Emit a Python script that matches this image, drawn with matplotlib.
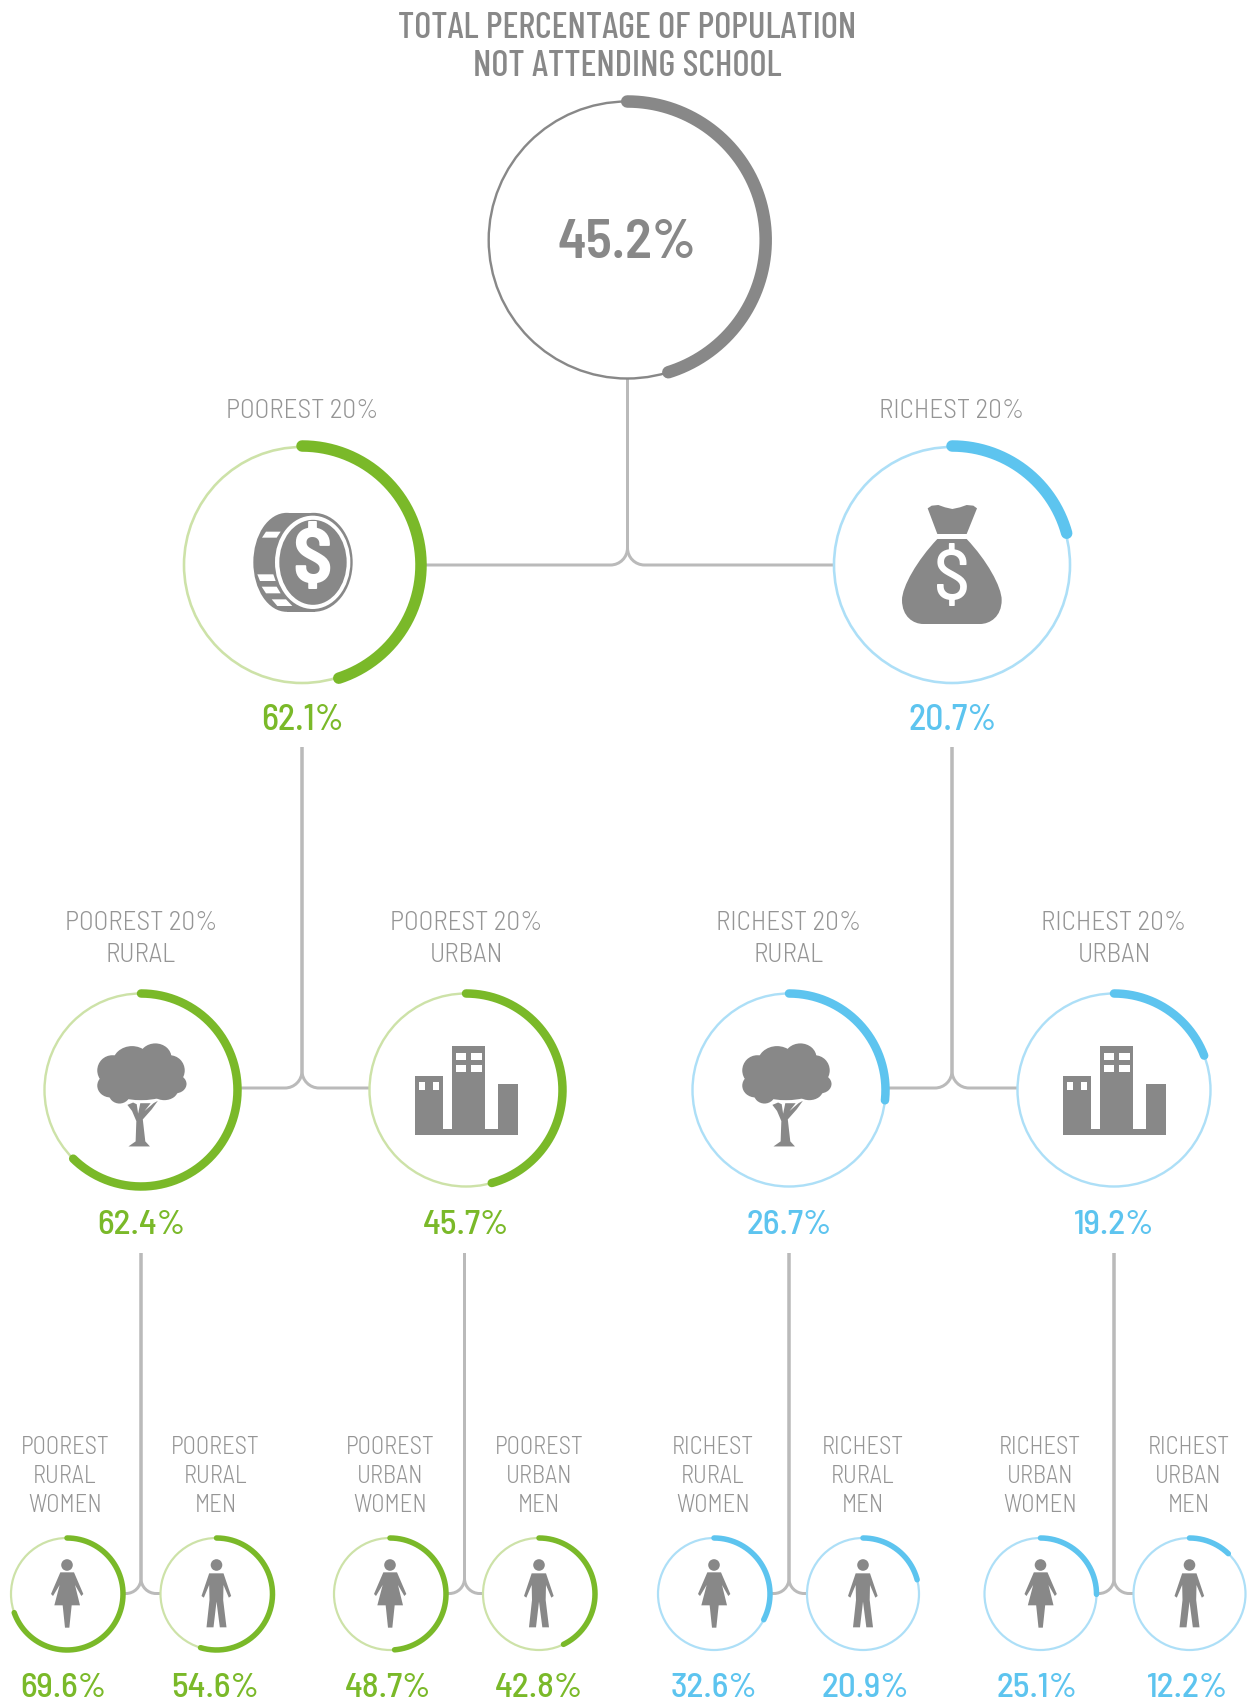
import numpy as np
import matplotlib
matplotlib.use('Agg')
import matplotlib.pyplot as plt
from matplotlib.path import Path
from matplotlib.patches import PathPatch, Ellipse, Polygon, Circle, Rectangle

# ---------- data ----------
title_lines = ['TOTAL PERCENTAGE OF POPULATION', 'NOT ATTENDING SCHOOL']
total_label = '45.2%'
total_arc = 45.2

wealth_names = ['POOREST 20%', 'RICHEST 20%']
wealth_labels = ['62.1%', '20.7%']
wealth_arcs = [45.0, 20.7]   # the drawn arc of the poorest ring is shorter than its label

area_names = [['POOREST 20%', 'RURAL'], ['POOREST 20%', 'URBAN'],
              ['RICHEST 20%', 'RURAL'], ['RICHEST 20%', 'URBAN']]
area_labels = ['62.4%', '45.7%', '26.7%', '19.2%']
area_arcs = [62.4, 45.7, 26.7, 19.2]

sex_names = [['POOREST', 'RURAL', 'WOMEN'], ['POOREST', 'RURAL', 'MEN'],
             ['POOREST', 'URBAN', 'WOMEN'], ['POOREST', 'URBAN', 'MEN'],
             ['RICHEST', 'RURAL', 'WOMEN'], ['RICHEST', 'RURAL', 'MEN'],
             ['RICHEST', 'URBAN', 'WOMEN'], ['RICHEST', 'URBAN', 'MEN']]
sex_labels = ['69.6%', '54.6%', '48.7%', '42.8%', '32.6%', '20.9%', '25.1%', '12.2%']
sex_arcs = [69.6, 54.6, 48.7, 42.8, 32.6, 20.9, 25.1, 12.2]

# ---------- style ----------
W, H = 1247, 1704
GREY = '#888888'; LABEL = '#959595'; LINE = '#bababa'
GREEN = '#7ab929'; GREEN_L = '#cde2a8'
BLUE = '#5dc4ef'; BLUE_L = '#addff7'
FONT = ['Barlow Semi Condensed', 'Roboto', 'DejaVu Sans']
FONT_TITLE = ['Barlow Condensed', 'Roboto', 'DejaVu Sans']
PX = 0.72  # points per pixel at dpi 100

fig = plt.figure(figsize=(W / 100, H / 100), dpi=100, facecolor='white')
ax = fig.add_axes([0, 0, 1, 1])
ax.set_xlim(0, W); ax.set_ylim(H, 0); ax.axis('off')


def ring(cx, cy, r, share, thin_c, thick_c, thin_w, thick_w, thick_r=None):
    ax.add_patch(Circle((cx, cy), r, fill=False, ec=thin_c, lw=thin_w * PX, zorder=3))
    t = np.radians(np.linspace(0, 3.6 * share, 300))
    tr = r if thick_r is None else thick_r
    ax.plot(cx + tr * np.sin(t), cy - tr * np.cos(t), color=thick_c, lw=thick_w * PX,
            solid_capstyle='round', zorder=4)


def fork(x, y0, y1, xl, xr, R):
    k = 0.55 * R
    for sgn, xe in ((-1, xl), (1, xr)):
        v = [(x, y0), (x, y1 - R), (x, y1 - R + k), (x + sgn * (R - k), y1), (x + sgn * R, y1), (xe, y1)]
        c = [Path.MOVETO, Path.LINETO, Path.CURVE4, Path.CURVE4, Path.CURVE4, Path.LINETO]
        ax.add_patch(PathPatch(Path(v, c), fill=False, ec=LINE, lw=3 * PX, zorder=1))


def label(x, base, s, size, color, weight=300, family=FONT):
    ax.text(x, base, s, ha='center', va='baseline', fontsize=size, color=color,
            family=family, weight=weight)


def poly(cx, cy, pts, ox, oy, s, color=GREY, z=5):
    pts = [(cx + (a - ox) / s, cy + (b - oy) / s) for a, b in pts]
    ax.add_patch(Polygon(pts, closed=True, fc=color, ec='none', zorder=z))


def woman(cx, cy):
    ax.add_patch(Circle((cx, cy - 29), 5.8, fc=GREY, ec='none', zorder=5))
    poly(cx, cy, [(178, 457), (219, 457), (247, 522), (241, 528), (222, 495), (237, 556),
                  (212, 556), (205, 623), (192, 623), (185, 556), (160, 556), (176, 495),
                  (156, 528), (150, 522)], 198, 522, 3)


def man(cx, cy):
    ax.add_patch(Circle((cx, cy - 29), 5.8, fc=GREY, ec='none', zorder=5))
    poly(cx, cy, [(625, 460), (668, 460), (691, 528), (684, 533), (668, 495), (667, 540),
                  (677, 622), (657, 622), (647, 545), (638, 622), (617, 622), (626, 540),
                  (625, 495), (609, 533), (602, 528)], 647, 522, 3)


def building(cx, cy):
    sx, sy = 2.79, 2.96
    for x0, x1, y0, y1 in [(1078, 1157, 317, 492), (1182, 1273, 228, 492), (1310, 1365, 343, 492),
                           (1157, 1182, 475, 492), (1273, 1310, 475, 492)]:
        ax.add_patch(Rectangle((cx + (x0 - 1220) / sx, cy + (y0 - 352) / sy), (x1 - x0) / sx,
                               (y1 - y0) / sy, fc=GREY, ec='none', zorder=5))
    for x0, x1, y0, y1 in [(1090, 1107, 335, 360), (1128, 1145, 335, 360), (1192, 1220, 250, 272),
                           (1235, 1265, 250, 272), (1192, 1220, 285, 306), (1235, 1265, 285, 306)]:
        ax.add_patch(Rectangle((cx + (x0 - 1220) / sx, cy + (y0 - 352) / sy), (x1 - x0) / sx,
                               (y1 - y0) / sy, fc='white', ec='none', zorder=6))


def tree(cx, cy):
    sx, sy = 2.79, 2.96
    for a, b, rx, ry in [(285, 280, 55, 52), (350, 262, 45, 42), (230, 300, 42, 45), (390, 300, 42, 45),
                         (225, 345, 37, 35), (405, 340, 32, 28), (290, 335, 95, 48), (250, 368, 30, 30),
                         (375, 358, 38, 30), (320, 320, 90, 60), (310, 360, 80, 28)]:
        ax.add_patch(Ellipse((cx + (a - 310) / sx, cy + (b - 352) / sy), 2 * rx / sx, 2 * ry / sy,
                             fc=GREY, ec='none', zorder=5))
    pts = [(275, 525), (295, 510), (297, 450), (285, 420), (272, 402), (288, 395), (298, 400), (302, 428),
           (308, 397), (337, 397), (320, 420), (345, 397), (357, 390), (340, 415), (315, 445), (322, 510), (335, 525)]
    ax.add_patch(Polygon([(cx + (a - 310) / sx, cy + (b - 352) / sy) for a, b in pts],
                         fc=GREY, ec='none', zorder=5))


def coin(cx, cy):
    o = lambda a, b: (cx + (a - 426) / 3, cy + (b - 525) / 3)
    ax.add_patch(Ellipse(o(380, 517), 200 / 3, 297 / 3, fc=GREY, ec='none', zorder=5))
    ax.add_patch(Rectangle(o(380, 368), 85 / 3, 297 / 3, fc=GREY, ec='none', zorder=5))
    ax.add_patch(Ellipse(o(461, 517), 234 / 3, 297 / 3, fc=GREY, ec='none', zorder=5))
    ax.add_patch(Ellipse(o(458, 517), 226 / 3, 280 / 3, fc='white', ec='none', zorder=6))
    ax.add_patch(Ellipse(o(459, 517), 202 / 3, 255 / 3, fc=GREY, ec='none', zorder=7))
    for pts in [[(318, 425), (362, 425), (350, 443), (306, 443)],
                [(292, 553), (340, 553), (347, 573), (300, 573)],
                [(305, 590), (350, 590), (362, 610), (318, 610)],
                [(335, 628), (378, 628), (397, 648), (352, 648)]]:
        ax.add_patch(Polygon([o(a, b) for a, b in pts], fc='white', ec='none', zorder=8))
    a, b = o(458, 520)
    ax.text(a, b, '$', ha='center', va='center', color='white', fontsize=56, family=FONT,
            weight=700, zorder=9)


def bag(cx, cy):
    o = lambda a, b: (cx + (a - 456) / 3, cy + (b - 435) / 3)
    pts = [(383, 265), (395, 257), (415, 255), (435, 262), (457, 267), (480, 262), (500, 255), (520, 257),
           (531, 265), (500, 342), (412, 342)]
    ax.add_patch(Polygon([o(a, b) for a, b in pts], fc=GREY, ec='none', zorder=5))
    v = [(412, 357), (500, 357), (560, 420), (605, 500), (605, 540), (605, 590), (570, 612), (540, 612),
         (370, 612), (340, 612), (306, 590), (306, 540), (306, 500), (352, 420), (412, 357), (412, 357)]
    cd = [Path.MOVETO, Path.LINETO, Path.CURVE4, Path.CURVE4, Path.CURVE4, Path.CURVE4, Path.CURVE4, Path.CURVE4,
          Path.LINETO, Path.CURVE4, Path.CURVE4, Path.CURVE4, Path.CURVE4, Path.CURVE4, Path.CURVE4, Path.CLOSEPOLY]
    ax.add_patch(PathPatch(Path([o(a, b) for a, b in v], cd), fc=GREY, ec='none', zorder=5))
    a, b = o(456, 485)
    ax.text(a, b, '$', ha='center', va='center', color='white', fontsize=52, family=FONT,
            weight=500, zorder=9)


# ---------- title and root ring ----------
for s, b in zip(title_lines, [38, 76]):
    label(627, b, s, 26.5, GREY, 500, FONT_TITLE)
ring(627.2, 240, 138.5, total_arc, GREY, GREY, 2.4, 12.5)
label(627, 258, total_label, 39.5, GREY, 600)

# ---------- wealth level ----------
wx = [302, 952]
wcol = [(GREEN, GREEN_L), (BLUE, BLUE_L)]
fork(627.5, 378, 565, 420, 834, 17)
for i in range(2):
    ring(wx[i], 565, 118, wealth_arcs[i], wcol[i][1], wcol[i][0], 2.6, 11.5, 119)
    label(wx[i], 417.5, wealth_names[i], 19.6, LABEL)
    label(wx[i], 730, wealth_labels[i], 25.8, wcol[i][0], 500)
coin(wx[0], 565); bag(wx[1], 565)

# ---------- area level ----------
ax_x = [141, 466, 789, 1114]
fork_x = [141, 464.5, 789, 1114]
tree_dx = [0, 0, -3, 0]
for k, (a, b) in enumerate([(0, 1), (2, 3)]):
    fork(wx[k], 747, 1088, ax_x[a] + 96, ax_x[b] - 96, 17)
for i in range(4):
    col = wcol[i // 2]
    ring(ax_x[i], 1090, 96.5, area_arcs[i], col[1], col[0], 2.4, 8.5)
    for s, b in zip(area_names[i], [929.5, 961.5]):
        label(ax_x[i], b, s, 19.6, LABEL)
    label(ax_x[i], 1234.5, area_labels[i], 25.3, col[0], 500)
    if i % 2 == 0:
        tree(ax_x[i] + tree_dx[i], 1088)
    else:
        building(ax_x[i], 1087.5)

# ---------- sex level ----------
sx_x = [67, 216.5, 390, 539, 714, 863, 1040.5, 1189.5]
name_x = [65, 215.5, 390, 539, 713, 862.5, 1040, 1188.5]
val_x = [63.5, 215, 388, 539, 714, 865, 1037, 1188]
for k in range(4):
    fork(fork_x[k], 1253, 1593.5, sx_x[2 * k] + 56, sx_x[2 * k + 1] - 56, 15)
for i in range(8):
    col = wcol[i // 4]
    ring(sx_x[i], 1594, 56, sex_arcs[i], col[1], col[0], 2.2, 5.5)
    for s, b in zip(sex_names[i], [1454, 1483, 1512]):
        label(name_x[i], b, s, 17.7, LABEL)
    label(val_x[i], 1697, sex_labels[i], 25.3, col[0], 500)
    (woman if i % 2 == 0 else man)(sx_x[i], 1594)

fig.savefig('out.png', dpi=100, facecolor='white')
